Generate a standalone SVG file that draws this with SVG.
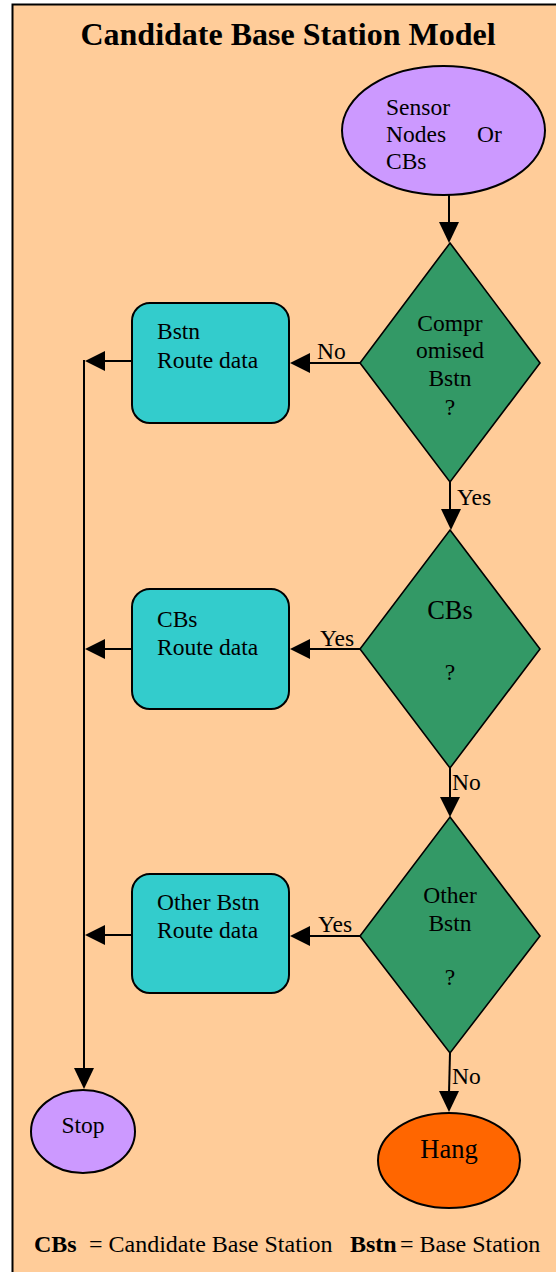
<svg xmlns="http://www.w3.org/2000/svg" width="556" height="1272" viewBox="0 0 556 1272">
<style>
text{font-family:"Liberation Serif","Times New Roman",serif;fill:#000}
.t{font-size:23.5px}
.big{font-size:26.5px}
.title{font-size:32px;font-weight:bold}
.b{font-weight:bold}
.leg{font-size:24px}
.dia{fill:#339966;stroke:#000;stroke-width:1.6}
.box{fill:#33CCCC;stroke:#000;stroke-width:2}
.ell{stroke:#000;stroke-width:2}
.ln{stroke:#000;stroke-width:2;fill:none}
.ah{fill:#000}
</style>
<rect x="0" y="0" width="556" height="1272" fill="#fff"/>
<rect id="frame" x="12.5" y="4.5" width="560" height="1290" fill="#FFCC99" stroke="#000" stroke-width="2"/>
<text class="title" x="288" y="45" text-anchor="middle">Candidate Base Station Model</text>

<g id="connectors">
  <line class="ln" x1="449" y1="195" x2="449" y2="224"/>
  <polygon class="ah" points="439,222 459,222 449,243"/>
  <line class="ln" x1="360" y1="363" x2="308" y2="363"/>
  <polygon class="ah" points="310,353 310,373 290,363"/>
  <text class="t" x="317" y="359">No</text>
  <line class="ln" x1="132" y1="361" x2="103" y2="361"/>
  <polygon class="ah" points="105,351 105,371 85,361"/>
  <line class="ln" x1="450" y1="482" x2="450" y2="511"/>
  <polygon class="ah" points="441,509 461,509 451,530"/>
  <text class="t" x="457" y="505">Yes</text>
  <line class="ln" x1="360" y1="649" x2="308" y2="649"/>
  <polygon class="ah" points="310,639 310,659 290,649"/>
  <text class="t" x="320" y="646">Yes</text>
  <line class="ln" x1="132" y1="649" x2="103" y2="649"/>
  <polygon class="ah" points="105,639 105,659 85,649"/>
  <line class="ln" x1="450" y1="768" x2="450" y2="799"/>
  <polygon class="ah" points="440,797 460,797 450,817"/>
  <text class="t" x="452" y="790">No</text>
  <line class="ln" x1="360" y1="936" x2="308" y2="936"/>
  <polygon class="ah" points="310,926 310,946 290,936"/>
  <text class="t" x="318" y="932">Yes</text>
  <line class="ln" x1="132" y1="935" x2="103" y2="935"/>
  <polygon class="ah" points="105,925 105,945 85,935"/>
  <line class="ln" x1="84" y1="360" x2="84" y2="1070"/>
  <polygon class="ah" points="74,1068 94,1068 84,1089"/>
  <line class="ln" x1="450" y1="1053" x2="449" y2="1093"/>
  <polygon class="ah" points="439,1091 459,1091 449,1112"/>
  <text class="t" x="452" y="1084">No</text>
</g>

<g id="start">
  <ellipse class="ell" cx="443.5" cy="130.5" rx="101.5" ry="64.5" fill="#CC99FF"/>
  <text class="t" x="386" y="115">Sensor</text>
  <text class="t" x="386" y="142">Nodes</text>
  <text class="t" x="477" y="142">Or</text>
  <text class="t" x="386" y="169">CBs</text>
</g>

<g id="decision1">
  <polygon class="dia" points="450,243 540,363 450,482 360,363"/>
  <text class="t" x="450" y="331" text-anchor="middle">Compr</text>
  <text class="t" x="450" y="358" text-anchor="middle">omised</text>
  <text class="t" x="450" y="386" text-anchor="middle">Bstn</text>
  <text class="t" x="450" y="415" text-anchor="middle">?</text>
</g>

<g id="route1">
  <rect class="box" x="132" y="303" width="157" height="120" rx="18"/>
  <text class="t" x="157" y="339">Bstn</text>
  <text class="t" x="157" y="368">Route data</text>
</g>

<g id="decision2">
  <polygon class="dia" points="450,530 540,649 450,768 360,649"/>
  <text class="big" x="450" y="619" text-anchor="middle">CBs</text>
  <text class="t" x="450" y="680" text-anchor="middle">?</text>
</g>

<g id="route2">
  <rect class="box" x="132" y="589" width="157" height="120" rx="18"/>
  <text class="t" x="157" y="627">CBs</text>
  <text class="t" x="157" y="655">Route data</text>
</g>

<g id="decision3">
  <polygon class="dia" points="450,817 540,936 450,1053 360,936"/>
  <text class="t" x="450" y="903" text-anchor="middle">Other</text>
  <text class="t" x="450" y="931" text-anchor="middle">Bstn</text>
  <text class="t" x="450" y="985" text-anchor="middle">?</text>
</g>

<g id="route3">
  <rect class="box" x="132" y="874" width="157" height="119" rx="18"/>
  <text class="t" x="157" y="910">Other Bstn</text>
  <text class="t" x="157" y="938">Route data</text>
</g>

<g id="stop">
  <ellipse class="ell" cx="83" cy="1131.5" rx="52" ry="41.5" fill="#CC99FF"/>
  <text class="t" x="83" y="1133" text-anchor="middle">Stop</text>
</g>

<g id="hang">
  <ellipse class="ell" cx="449" cy="1160.5" rx="71" ry="47.5" fill="#FF6600"/>
  <text class="big" x="449" y="1158" text-anchor="middle">Hang</text>
</g>

<g id="legend">
  <text class="leg" y="1252"><tspan class="b" x="34">CBs</tspan><tspan x="89">= Candidate Base Station</tspan><tspan class="b" x="350">Bstn</tspan><tspan x="400">= Base Station</tspan></text>
</g>
</svg>
